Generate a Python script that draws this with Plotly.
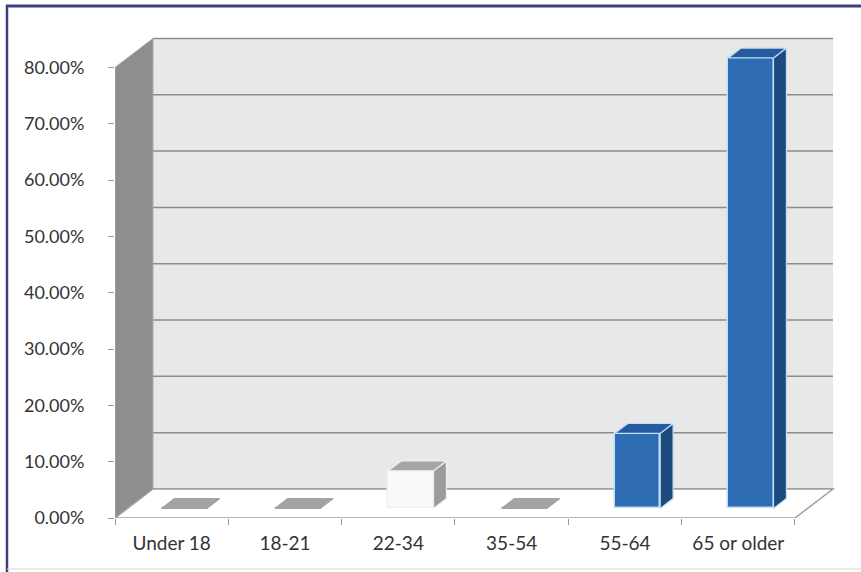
import plotly.graph_objects as go

# ---------------- data ----------------
categories = ["Under 18", "18-21", "22-34", "35-54", "55-64", "65 or older"]
values = [0.0, 0.0, 6.67, 0.0, 13.33, 80.0]
y_ticks = [0, 10, 20, 30, 40, 50, 60, 70, 80]
y_tick_labels = [f"{v:.2f}%" for v in y_ticks]

# ---------------- styles ----------------
front_colors = ["#a6a6a6", "#a6a6a6", "#fafafa", "#a6a6a6", "#2e6db4", "#2e6db4"]
top_colors = ["#a3a3a3", "#a3a3a3", "#a5a5a5", "#a3a3a3", "#265c9f", "#265c9f"]
side_colors = ["#8f8f8f", "#8f8f8f", "#9b9b9b", "#8f8f8f", "#1d497c", "#1d497c"]
edge_colors = ["#d0d0d0", "#d0d0d0", "#f0f0f0", "#d0d0d0", "#bfe0f6", "#bfe0f6"]

FONT = "Lato"
TXT = "#333333"
DX, DY = 0.335, 5.15          # depth offset (x units, y units)
BAR_W = 0.40                  # bar width in category units
F1, F2 = 0.33, 0.67           # bar front/back position within the depth
YMAX = y_ticks[-1]
n = len(categories)
x_lo, x_hi = -0.5, n - 0.5

fig = go.Figure()


def path(xs, ys):
    s = f"M {xs[0]},{ys[0]}"
    for x, y in zip(xs[1:], ys[1:]):
        s += f" L {x},{y}"
    return s + " Z"


def poly(xs, ys, fill, line_color=None, line_width=0):
    fig.add_trace(go.Scatter(
        x=xs + [xs[0]], y=ys + [ys[0]], mode="lines", fill="toself",
        fillcolor=fill,
        line=dict(color=line_color or fill, width=line_width),
        hoverinfo="skip", showlegend=False))


shapes = []
# back wall
shapes.append(dict(type="path", xref="x", yref="y", layer="below",
                   path=path([x_lo + DX, x_hi + DX, x_hi + DX, x_lo + DX],
                             [DY, DY, YMAX + DY, YMAX + DY]),
                   fillcolor="#e8e8e8", line=dict(width=0)))
# back wall gridlines
for v in y_ticks:
    shapes.append(dict(type="line", xref="x", yref="y", layer="below",
                       x0=x_lo + DX, x1=x_hi + DX, y0=v + DY, y1=v + DY,
                       line=dict(color="#8c8c8c", width=1.5)))
# left side wall
shapes.append(dict(type="path", xref="x", yref="y", layer="below",
                   path=path([x_lo, x_lo + DX, x_lo + DX, x_lo],
                             [0, DY, YMAX + DY, YMAX]),
                   fillcolor="#8e8e8e", line=dict(color="#a8a8a8", width=1)))
# floor
shapes.append(dict(type="path", xref="x", yref="y", layer="below",
                   path=path([x_lo, x_hi, x_hi + DX, x_lo + DX],
                             [0, 0, DY, DY]),
                   fillcolor="#ffffff", line=dict(color="#a0a0a0", width=1.5)))

# bar side and top faces
ddx, ddy = (F2 - F1) * DX, (F2 - F1) * DY
for i, v in enumerate(values):
    x0 = i - BAR_W / 2 + F1 * DX
    x1 = i + BAR_W / 2 + F1 * DX
    yb = F1 * DY
    yt = yb + v
    if v > 0:
        poly([x1, x1 + ddx, x1 + ddx, x1], [yb, yb + ddy, yt + ddy, yt],
             side_colors[i], edge_colors[i], 1.2)
    poly([x0, x1, x1 + ddx, x0 + ddx], [yt, yt, yt + ddy, yt + ddy],
         top_colors[i], edge_colors[i] if v > 0 else top_colors[i], 1.2)

# bar front faces
fig.add_trace(go.Bar(
    x=[i + F1 * DX for i in range(n)], y=values, base=F1 * DY, width=BAR_W,
    marker=dict(color=front_colors, line=dict(color=edge_colors, width=1.5)),
    hoverinfo="skip", showlegend=False))

W, H = 861, 572
ML, MR, MT, MB = 115, 21, 33, 54
pw, ph = W - ML - MR, H - MT - MB
xscale = 113.33
yscale = 450.5 / 80


def px_x(p):
    return (p - ML) / pw


def px_y(p):
    return (H - MB - p) / ph


shapes += [
    dict(type="line", xref="paper", yref="paper",
         x0=px_x(7), x1=px_x(7), y0=px_y(575), y1=px_y(5),
         line=dict(color="#3c3f7a", width=2.5)),
    dict(type="line", xref="paper", yref="paper",
         x0=px_x(6), x1=px_x(870), y0=px_y(6), y1=px_y(6),
         line=dict(color="#3c3f7a", width=3)),
    dict(type="line", xref="paper", yref="paper",
         x0=px_x(7), x1=px_x(870), y0=px_y(569), y1=px_y(569),
         line=dict(color="#d8d8d8", width=1)),
]

fig.update_layout(
    width=W, height=H,
    margin=dict(l=ML, r=MR, t=MT, b=MB),
    paper_bgcolor="white", plot_bgcolor="white",
    showlegend=False, bargap=0,
    xaxis=dict(range=[x_lo, x_lo + pw / xscale], showgrid=False,
               zeroline=False, showline=False,
               tickmode="array", tickvals=list(range(n)), ticktext=categories,
               ticks="", ticklabelstandoff=12,
               tickfont=dict(family=FONT, size=19, color=TXT),
               minor=dict(tickmode="array",
                          tickvals=[k - 0.5 for k in range(n + 1)],
                          ticks="outside", ticklen=6, tickcolor="#9a9a9a",
                          tickwidth=1, showgrid=False)),
    yaxis=dict(range=[0, ph / yscale], showgrid=False, zeroline=False,
               showline=False, tickmode="array", tickvals=y_ticks,
               ticktext=y_tick_labels, ticks="outside", ticklen=6,
               tickcolor="#9a9a9a", tickwidth=1, ticklabelstandoff=20,
               tickfont=dict(family=FONT, size=18, color=TXT)),
    shapes=shapes,
)

fig.write_html("out.html", config={"displayModeBar": False},
               post_script="document.body.style.margin='0px';")
